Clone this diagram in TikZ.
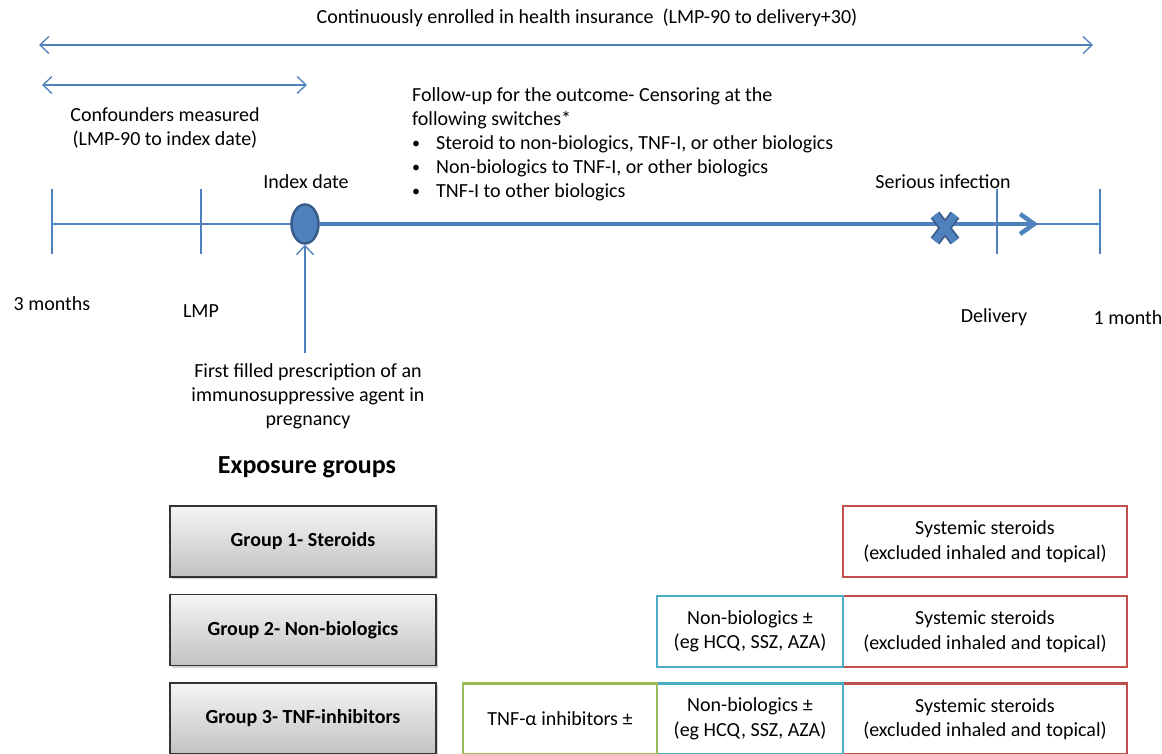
\documentclass[tikz,border=0pt]{standalone}
\usepackage{fontspec}
\setmainfont{Carlito}
\usetikzlibrary{arrows.meta,shadows,positioning,shapes.geometric}

\definecolor{tlblue}{RGB}{79,129,189}
\definecolor{tldark}{RGB}{56,93,138}
\definecolor{boxred}{RGB}{192,80,77}
\definecolor{boxcyan}{RGB}{75,172,198}
\definecolor{boxgreen}{RGB}{155,187,89}

\tikzset{
    barb/.style={tlblue, line width=1.3pt, {Straight Barb[length=9pt,width=17pt]}-{Straight Barb[length=9pt,width=17pt]}},
    uptip/.style={tlblue, line width=1.3pt, -{Straight Barb[length=9pt,width=17pt]}},
    tick/.style={tlblue, line width=1.5pt},
    label/.style={font=\fontsize{20}{24}\selectfont, align=center},
    groupbox/.style={draw=black!80, line width=1.2pt, minimum width=266pt, minimum height=71pt,
        top color=black!4, bottom color=black!24, drop shadow={shadow xshift=2pt, shadow yshift=-2pt, opacity=.35},
        font=\fontsize{20}{24}\selectfont\bfseries, inner sep=0pt, outer sep=0pt},
    drugbox/.style={draw, line width=2.5pt, fill=white, minimum height=71pt, align=center,
        font=\fontsize{20}{24.5}\selectfont, inner sep=0pt, outer sep=0pt},
}
\newcommand{\bul}{\makebox[24pt][l]{\raisebox{1pt}{\fontsize{16}{16}\selectfont\textbullet}}}

\begin{document}
\begin{tikzpicture}[x=1pt, y=-1pt]
    \clip (0,0) rectangle (1162,753);
    \fill [white] (0,0) rectangle (1162,753);

    % enrolment and confounder windows
    \coordinate (ens) at (39,45);
    \coordinate (ene) at (1093,45);
    \coordinate (cfs) at (42,85);
    \coordinate (cfe) at (307,85);

    \draw [barb] (ens) -- (ene);
    \draw [barb] (cfs) -- (cfe);

    \node [label] (enrol) at (587,18) {Continuously enrolled in health insurance\ \ (LMP-90 to delivery+30)};
    \node [label] (confound) at (165,128) {Confounders measured\\(LMP-90 to index date)};

    % follow-up text
    \node [label, align=left, anchor=north west, inner sep=0pt] (follow) at (412,87)
        {Follow-up for the outcome- Censoring at the\\
         following switches*\\
         \bul Steroid to non-biologics, TNF-I, or other biologics\\
         \bul Non-biologics to TNF-I, or other biologics\\
         \bul TNF-I to other biologics};

    % timeline ticks
    \coordinate (t3m) at (52,224);
    \coordinate (tlmp) at (201,224);
    \coordinate (tdel) at (997,224);
    \coordinate (t1m) at (1100,224);
    \coordinate (tip) at (1038,224);

    \draw [tick] (t3m) -- (t1m);
    \foreach \t in {t3m,tlmp,tdel,t1m}
        \draw [tick] ([yshift=-30pt]\t) -- ([yshift=35pt]\t);

    \node [ellipse, draw=tldark, fill=tlblue, line width=2.5pt, minimum width=27pt, minimum height=39pt,
        inner sep=0pt] (idx) at (305,224) {};
    \draw [tlblue, line width=4.5pt, -{Straight Barb[length=14pt,width=20pt]}] (idx.east) -- (tip);

    % serious infection cross
    \coordinate (inf) at (945,228);
    \draw [tldark, line width=11pt] ([shift={(-10,-13)}]inf) -- ([shift={(10,13)}]inf)
        ([shift={(-10,13)}]inf) -- ([shift={(10,-13)}]inf);
    \draw [tlblue, line width=7.5pt] ([shift={(-10,-13)}]inf) -- ([shift={(10,13)}]inf)
        ([shift={(-10,13)}]inf) -- ([shift={(10,-13)}]inf);

    \node [label] (idxl) at (306,182) {Index date};
    \node [label] (infl) at (943,182) {Serious infection};
    \node [label] (l3m) at (52,304) {3 months};
    \node [label] (llmp) at (201,311) {LMP};
    \node [label] (ldel) at (994,317) {Delivery};
    \node [label] (l1m) at (1128,318) {1 month};

    % first prescription
    \coordinate (rx) at (305,353);
    \draw [uptip] (rx) -- (idx.south);
    \node [label] (rxl) at (308,396) {First filled prescription of an\\immunosuppressive agent in\\pregnancy};

    % exposure groups
    \node [font=\fontsize{26}{30}\selectfont\bfseries] (expo) at (307,467) {Exposure groups};

    \node [groupbox] (g1) at (303,541.5) {Group 1- Steroids};
    \node [groupbox] (g2) at (303,630) {Group 2- Non-biologics};
    \node [groupbox] (g3) at (303,718.5) {Group 3- TNF-inhibitors};

    \node [drugbox, draw=boxred, minimum width=284pt] (st1) at (985,541.5) {Systemic steroids\\(excluded inhaled and topical)};
    \node [drugbox, draw=boxred, minimum width=284pt] (st2) at (985,631.5) {Systemic steroids\\(excluded inhaled and topical)};
    \node [drugbox, draw=boxred, minimum width=284pt] (st3) at (985,719) {Systemic steroids\\(excluded inhaled and topical)};

    \node [drugbox, draw=boxcyan, minimum width=186pt, anchor=east] (nb2) at (st2.west) {Non-biologics ±\\(eg HCQ, SSZ, AZA)};
    \node [drugbox, draw=boxcyan, minimum width=186pt, anchor=east] (nb3) at (st3.west) {Non-biologics ±\\(eg HCQ, SSZ, AZA)};
    \node [drugbox, draw=boxgreen, minimum width=194pt, anchor=east] (tnf) at (nb3.west) {TNF-α inhibitors ±};
\end{tikzpicture}
\end{document}
